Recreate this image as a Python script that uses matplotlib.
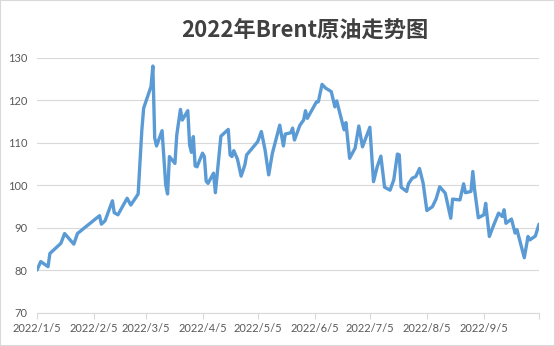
import pandas as pd
import matplotlib
import matplotlib.pyplot as plt
import matplotlib.dates as mdates
from matplotlib.patches import Rectangle

plt.rcParams['font.family'] = ['Noto Sans CJK SC', 'DejaVu Sans']

# ---------------------- data ----------------------
dates = [
    "2022-01-05", "2022-01-07", "2022-01-11", "2022-01-12", "2022-01-14", "2022-01-18",
    "2022-01-20", "2022-01-25", "2022-01-27", "2022-02-08", "2022-02-09", "2022-02-11",
    "2022-02-15", "2022-02-16", "2022-02-18", "2022-02-23", "2022-02-25", "2022-03-01",
    "2022-03-03", "2022-03-04", "2022-03-08", "2022-03-09", "2022-03-10", "2022-03-11",
    "2022-03-14", "2022-03-16", "2022-03-17", "2022-03-18", "2022-03-21", "2022-03-22",
    "2022-03-24", "2022-03-25", "2022-03-28", "2022-03-29", "2022-03-30", "2022-03-31",
    "2022-04-01", "2022-04-02", "2022-04-05", "2022-04-06", "2022-04-07", "2022-04-08",
    "2022-04-11", "2022-04-12", "2022-04-15", "2022-04-19", "2022-04-20", "2022-04-21",
    "2022-04-22", "2022-04-24", "2022-04-26", "2022-04-28", "2022-04-29", "2022-05-05",
    "2022-05-07", "2022-05-09", "2022-05-11", "2022-05-13", "2022-05-17", "2022-05-19",
    "2022-05-20", "2022-05-23", "2022-05-24", "2022-05-25", "2022-05-28", "2022-05-30",
    "2022-05-31", "2022-06-01", "2022-06-06", "2022-06-07", "2022-06-09", "2022-06-11",
    "2022-06-14", "2022-06-16", "2022-06-17", "2022-06-21", "2022-06-22", "2022-06-24",
    "2022-06-27", "2022-06-29", "2022-07-01", "2022-07-05", "2022-07-07", "2022-07-09",
    "2022-07-11", "2022-07-13", "2022-07-16", "2022-07-18", "2022-07-20", "2022-07-21",
    "2022-07-22", "2022-07-25", "2022-07-26", "2022-07-28", "2022-07-30", "2022-08-01",
    "2022-08-03", "2022-08-05", "2022-08-08", "2022-08-10", "2022-08-12", "2022-08-15",
    "2022-08-18", "2022-08-19", "2022-08-23", "2022-08-25", "2022-08-26", "2022-08-29",
    "2022-08-30", "2022-08-31", "2022-09-02", "2022-09-05", "2022-09-06", "2022-09-08",
    "2022-09-10", "2022-09-13", "2022-09-15", "2022-09-16", "2022-09-17", "2022-09-20",
    "2022-09-22", "2022-09-23", "2022-09-27", "2022-09-29", "2022-09-30", "2022-10-03",
    "2022-10-05",
]
prices = [
    80.1, 82.1, 80.9, 84.0, 84.8, 86.4,
    88.7, 86.2, 88.7, 92.9, 90.9, 91.7,
    96.4, 93.6, 93.1, 97.0, 95.4, 98.0,
    113.0, 118.2, 123.3, 128.1, 111.2, 109.3,
    112.9, 100.1, 98.0, 106.8, 105.2, 111.9,
    117.9, 115.4, 117.6, 109.5, 107.8, 111.5,
    104.6, 104.4, 107.6, 106.8, 101.0, 100.5,
    102.9, 98.3, 111.6, 113.2, 107.2, 106.8,
    108.2, 106.2, 102.2, 104.8, 107.2, 110.3,
    112.7, 108.4, 102.5, 107.6, 114.2, 109.3,
    112.1, 112.4, 113.5, 110.7, 114.2, 115.4,
    117.6, 115.8, 119.7, 119.7, 123.8, 122.9,
    122.1, 118.5, 119.9, 113.1, 114.8, 106.4,
    108.8, 114.0, 109.1, 113.7, 100.9, 104.4,
    106.9, 99.6, 98.9, 101.3, 107.4, 107.2,
    99.6, 98.6, 100.4, 101.7, 102.1, 104.0,
    100.5, 94.1, 95.0, 96.8, 99.7, 98.2,
    92.3, 96.8, 96.6, 100.4, 98.3, 98.6,
    103.3, 98.9, 92.4, 93.1, 95.8, 88.0,
    90.3, 93.5, 92.7, 94.3, 91.1, 92.1,
    88.8, 89.6, 83.0, 88.0, 87.2, 88.1,
    90.9,
]
tick_dates = ["2022-01-05", "2022-02-05", "2022-03-05", "2022-04-05", "2022-05-05",
              "2022-06-05", "2022-07-05", "2022-08-05", "2022-09-05", "2022-10-05"]
y_ticks = [70, 80, 90, 100, 110, 120, 130]
title = "2022年Brent原油走势图"

df = pd.DataFrame({"date": pd.to_datetime(dates), "price": prices})
ticks = pd.to_datetime(tick_dates)

# ---------------------- plot ----------------------
fig = plt.figure(figsize=(5.55, 3.46), dpi=100)
ax = fig.add_axes([0.0667, 0.0954, 0.9045, 0.737])

ax.plot(df["date"], df["price"], color="#5B9BD5", lw=2.4, solid_joinstyle="round",
        solid_capstyle="round", zorder=3)

ax.set_xlim(ticks[0], ticks[-1])
ax.set_ylim(70, 130)
ax.set_yticks(y_ticks)
ax.set_xticks(ticks)
labels = [f"{d.year}/{d.month}/{d.day}" for d in ticks]
labels[-1] = ""
ax.set_xticklabels(labels)

ax.grid(axis="y", color="#d9d9d9", lw=0.8)
ax.set_axisbelow(True)
for s in ["top", "right", "left"]:
    ax.spines[s].set_visible(False)
ax.spines["bottom"].set_color("#d9d9d9")
ax.spines["bottom"].set_linewidth(0.8)
ax.tick_params(axis="y", length=0, pad=7, labelsize=8, labelcolor="#595959")
ax.tick_params(axis="x", length=4, width=0.8, color="#d9d9d9", pad=3,
               labelsize=8, labelcolor="#595959")
for lab in ax.get_xticklabels() + ax.get_yticklabels():
    lab.set_family(["Lato", "DejaVu Sans"])

fig.text(0.55, 0.912, title, ha="center", va="center", fontsize=16,
         fontweight="bold", color="#404040")

fig.patches.append(Rectangle((0, 0), 1, 1, transform=fig.transFigure, fill=False,
                             edgecolor="#d9d9d9", lw=1.5))

plt.savefig("out.png", dpi=100)
